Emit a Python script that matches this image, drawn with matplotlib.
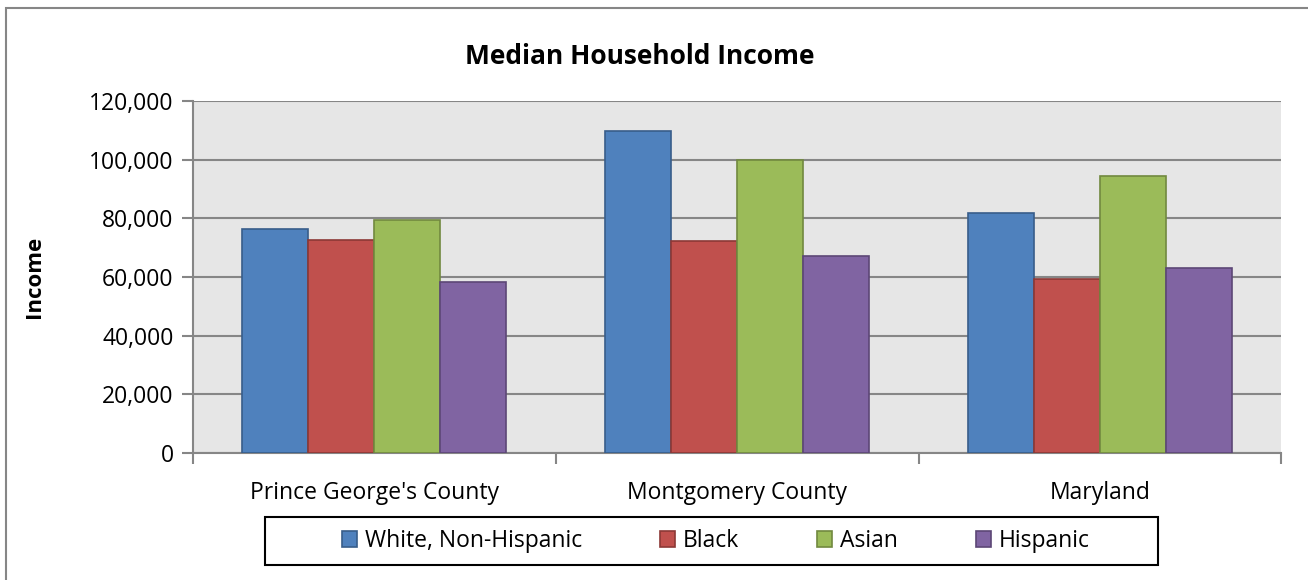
import numpy as np
import matplotlib
matplotlib.use("Agg")
import matplotlib.pyplot as plt
from matplotlib.patches import Rectangle
from matplotlib.ticker import FuncFormatter

plt.rcParams['font.family'] = ['Open Sans', 'DejaVu Sans']

categories = ["Prince George's County", "Montgomery County", "Maryland"]
series     = ["White, Non-Hispanic", "Black", "Asian", "Hispanic"]
white      = [76500, 109800, 81900]
black      = [72600, 72300, 59400]
asian      = [79500, 100000, 94400]
hispanic   = [58300, 67200, 63000]
values     = [white, black, asian, hispanic]

colors = ["#4F81BD", "#C0504D", "#9BBB59", "#8064A2"]
edges  = ["#385D8A", "#8C3836", "#71893F", "#5C4776"]
GRID   = "#868686"

fig = plt.figure(figsize=(13.08, 5.8), dpi=100)
fig.patch.set_facecolor("white")
# outer chart border (only top and left edges fall inside the image)
fig.patches.append(Rectangle((6 / 1308, -0.05), 1.1, 1 - 8 / 580 + 0.05,
                             transform=fig.transFigure, fill=False,
                             edgecolor=GRID, linewidth=1.5))

ax = fig.add_axes([0.1476, 0.219, 0.832, 0.607])
ax.set_facecolor("#E6E6E6")

x = np.arange(len(categories))
w = 0.182
for i, (vals, c, e) in enumerate(zip(values, colors, edges)):
    ax.bar(x + (i - 1.5) * w, vals, width=w, color=c, edgecolor=e,
           linewidth=1.2, label=series[i], zorder=3)

ax.set_xlim(-0.5, len(categories) - 0.5)
ax.set_ylim(0, 120000)
ax.set_yticks(np.arange(0, 120001, 20000))
ax.yaxis.set_major_formatter(FuncFormatter(lambda v, p: f"{int(v):,}"))
ax.grid(axis="y", color=GRID, linewidth=1.5, zorder=1)
ax.set_axisbelow(True)

ax.set_xticks(x)
ax.set_xticklabels(categories, fontsize=16.5)
ax.set_xticks(np.arange(-0.5, len(categories)), minor=True)
ax.tick_params(axis="x", which="major", length=0, pad=20)
ax.tick_params(axis="x", which="minor", length=8, width=1.5, color=GRID)
ax.tick_params(axis="y", length=8, width=1.5, color=GRID, labelsize=16.5, pad=6)

for s in ["top", "right"]:
    ax.spines[s].set_visible(False)
for s in ["left", "bottom"]:
    ax.spines[s].set_color(GRID)
    ax.spines[s].set_linewidth(1.5)

ax.set_ylabel("Income", fontsize=16, fontweight="bold", labelpad=32)
fig.text(0.489, 0.903, "Median Household Income", ha="center", va="center",
         fontsize=19, fontweight="bold")

# legend box drawn separately so the frame can be wider than the entries
fig.patches.append(Rectangle((265 / 1308, 1 - 565 / 580), (1158 - 265) / 1308,
                             48 / 580, transform=fig.transFigure, fill=False,
                             edgecolor="black", linewidth=1.5))
leg = fig.legend(loc="center", bbox_to_anchor=(716 / 1308, 1 - 541 / 580), ncol=4,
                 fontsize=16.5, frameon=False,
                 handlelength=0.65, handleheight=0.65, columnspacing=3.4,
                 handletextpad=0.35)

fig.savefig("out.png", dpi=100)
